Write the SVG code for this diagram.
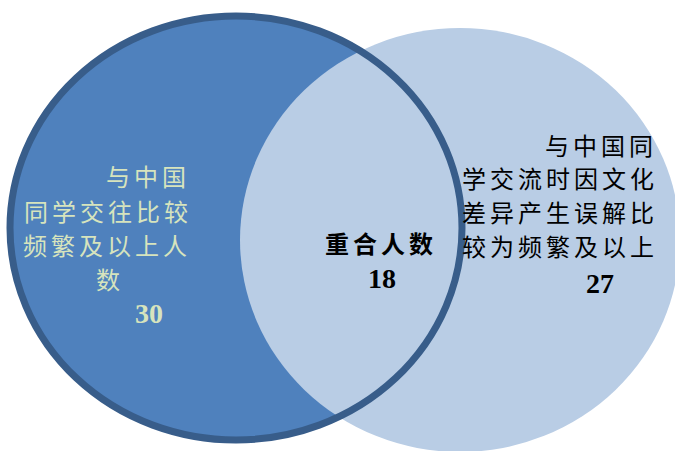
<svg xmlns="http://www.w3.org/2000/svg" width="675" height="451" viewBox="0 0 675 451">
  <style>
    .cjk { font-family: "Noto Sans CJK SC", "Noto Sans CJK JP", sans-serif; font-size: 24px; letter-spacing: 4px; }
    .num { font-family: "Liberation Serif", "DejaVu Serif", serif; font-size: 28px; font-weight: bold; text-anchor: middle; }
    .pale { fill: #D7E4BD; }
    .dark { fill: #000000; }
  </style>
  <rect width="675" height="451" fill="#FFFFFF"/>
  <g id="set-left">
    <ellipse cx="236" cy="228" rx="226" ry="212" fill="#4F81BD"/>
  </g>
  <g id="set-right">
    <ellipse cx="460" cy="240" rx="220" ry="212" fill="#B9CDE5"/>
  </g>
  <g id="set-left-outline">
    <ellipse cx="236" cy="228" rx="226" ry="212" fill="none" stroke="#385D8A" stroke-width="7"/>
  </g>
  <g id="label-left">
    <text class="cjk pale" x="106" y="186">与中国</text>
    <text class="cjk pale" x="24" y="221">同学交往比较</text>
    <text class="cjk pale" x="23" y="255">频繁及以上人</text>
    <text class="cjk pale" x="96" y="289">数</text>
    <text class="num pale" x="149" y="323">30</text>
  </g>
  <g id="label-overlap">
    <text class="cjk dark" x="325" y="253" font-weight="bold">重合人数</text>
    <text class="num dark" x="382" y="288">18</text>
  </g>
  <g id="label-right">
    <text class="cjk dark" x="545" y="155">与中国同</text>
    <text class="cjk dark" x="462" y="188">学交流时因文化</text>
    <text class="cjk dark" x="462" y="222">差异产生误解比</text>
    <text class="cjk dark" x="462" y="256">较为频繁及以上</text>
    <text class="num dark" x="600" y="293">27</text>
  </g>
</svg>
